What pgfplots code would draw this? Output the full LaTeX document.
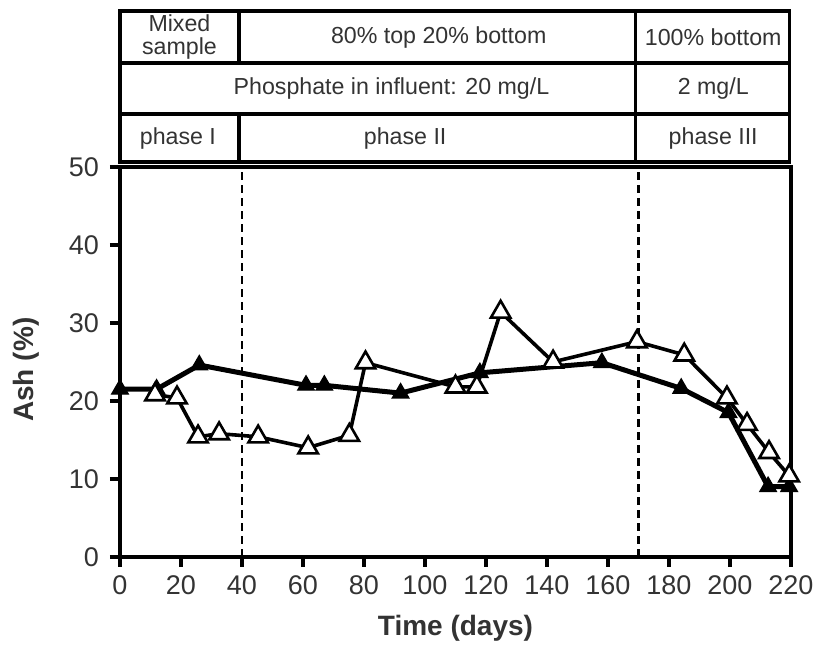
\documentclass[border=0pt]{standalone}
\usepackage{fontspec}
\setmainfont{Liberation Sans}
\usepackage{pgfplots}
\pgfplotsset{compat=1.18}
\definecolor{txt}{gray}{0.2}
\begin{document}
\begin{tikzpicture}
\begin{axis}[
  width=335.5pt, height=195pt, scale only axis,
  xmin=0, xmax=220, ymin=0, ymax=50,
  xtick={0,20,...,220}, ytick={0,10,...,50},
  tick pos=left, tick align=outside,
  major tick length=5pt,
  tick style={line width=1.8pt, black},
  axis line style={line width=2.2pt},
  clip=false,
  /pgf/number format/assume math mode=true,
  ticklabel style={font=\fontsize{13.5}{15}\selectfont, text=txt},
  yticklabel style={xshift=-2pt},
  xticklabel style={yshift=-1pt},
  xlabel={\textbf{Time (days)}},
  ylabel={\textbf{Ash (\%)}},
  label style={font=\fontsize{14}{16}\selectfont, text=txt},
  xlabel style={at={(axis description cs:0.5,-0.182)}, anchor=center},
  ylabel style={at={(axis description cs:-0.14,0.48)}, anchor=center, rotate=0},
]
% dashed phase separators
\draw[line width=1.2pt, dash pattern=on 4pt off 2.5pt] (axis cs:40,0) -- (axis cs:40,50);
\draw[line width=1.2pt, dash pattern=on 4pt off 2.5pt] (axis cs:170,0) -- (axis cs:170,50);
% table above the plot
\draw[line width=1.8pt] (axis cs:0,50.6) rectangle (axis cs:219.5,70);
\draw[line width=1.8pt] (axis cs:0,63.3) -- (axis cs:219.5,63.3);
\draw[line width=1.8pt] (axis cs:0,56.8) -- (axis cs:219.5,56.8);
\draw[line width=1.8pt] (axis cs:39,63.3) -- (axis cs:39,70);
\draw[line width=1.8pt] (axis cs:39,50.6) -- (axis cs:39,56.8);
\draw[line width=1.8pt] (axis cs:169,50.6) -- (axis cs:169,70);
\begin{scope}[every node/.style={font=\fontsize{11.6}{11.8}\selectfont, text=txt, align=center}]
\node at (axis cs:19.5,66.65) {Mixed\\sample};
\node at (axis cs:104.5,66.65) {80\% top 20\% bottom};
\node at (axis cs:194.5,66.65) {100\% bottom};
\node at (axis cs:89,60.05) {Phosphate in influent: 20 mg/L};
\node at (axis cs:194.5,60.05) {2 mg/L};
\node at (axis cs:19,53.7) {phase I};
\node at (axis cs:93.5,53.7) {phase II};
\node at (axis cs:194.5,53.7) {phase III};
\end{scope}
% filled triangles
\addplot[line width=2.5pt, black, mark=triangle*, mark size=4.8pt,
  mark options={solid, fill=black, line width=0.6pt}] coordinates {
  (0,21.5) (12,21.5) (26,24.6) (61,22.0) (67,22.0) (92,21.0) (118,23.6)
  (158,24.9) (184,21.6) (199.5,18.5) (212.5,9.0) (219.4,9.0)
};
% open triangles
\addplot[line width=1.8pt, black, mark=triangle*, mark size=5.6pt,
  mark options={solid, fill=white, line width=1.3pt}] coordinates {
  (11.5,20.8) (18.7,20.4) (25.6,15.4) (32.5,15.8) (45.3,15.4) (61.7,14.0)
  (75.2,15.6) (80.5,24.9) (110,21.8) (117,21.8) (124.8,31.4) (142,25.0)
  (169.5,27.6) (185,25.9) (199,20.4) (205.6,17.0) (212.8,13.4) (219.4,10.4)
};
\coordinate (bbsw) at (rel axis cs:-0.1788,-0.228);
\coordinate (bbne) at (rel axis cs:1.0358,1.428);
\end{axis}
\pgfresetboundingbox
\path (bbsw) rectangle (bbne);
\end{tikzpicture}
\end{document}
